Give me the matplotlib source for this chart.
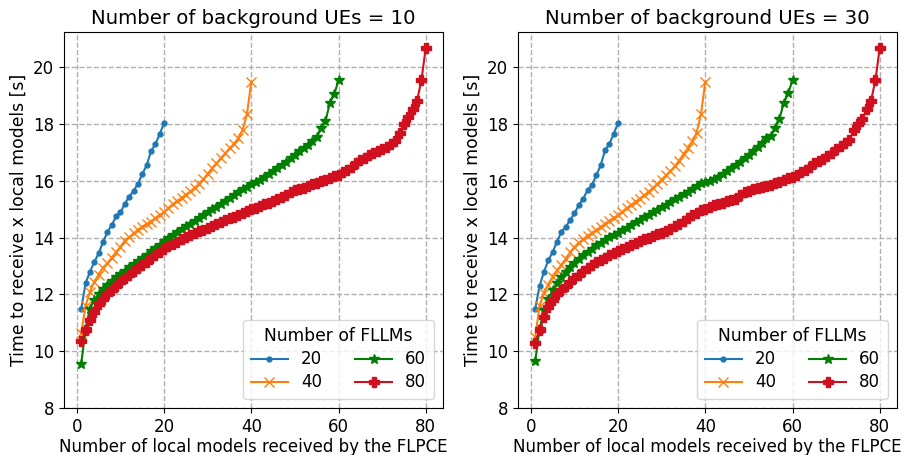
import matplotlib
matplotlib.use("Agg")
import matplotlib.pyplot as plt
import numpy as np

titles = ["Number of background UEs = 10", "Number of background UEs = 30"]
xlabel = "Number of local models received by the FLPCE"
ylabel = "Time to receive x local models [s]"
legend_title = "Number of FLLMs"
labels = ["20", "40", "60", "80"]

# ---- Background UEs = 10 ----
l_20 = [11.5, 12.4, 12.8, 13.15, 13.45, 13.85, 14.2, 14.45, 14.75, 14.9,
        15.2, 15.45, 15.65, 15.9, 16.25, 16.55, 17.05, 17.3, 17.65, 18.05]
l_40 = [10.65, 11.6, 12.1, 12.45, 12.7, 12.95, 13.1, 13.3, 13.5, 13.68,
        13.9, 14.02, 14.15, 14.28, 14.39, 14.48, 14.57, 14.7, 14.8, 14.9,
        15.05, 15.18, 15.3, 15.4, 15.52, 15.63, 15.75, 15.9, 16.07, 16.25,
        16.45, 16.62, 16.8, 16.97, 17.15, 17.3, 17.5, 17.8, 18.35, 19.5]
l_60 = [9.55, 10.8, 11.5, 11.8, 12.0, 12.2, 12.35, 12.48, 12.6, 12.72,
        12.84, 12.96, 13.07, 13.18, 13.29, 13.4, 13.52, 13.64, 13.76, 13.88,
        14.0, 14.1, 14.2, 14.3, 14.4, 14.5, 14.6, 14.7, 14.8, 14.9,
        15.0, 15.1, 15.2, 15.3, 15.4, 15.5, 15.6, 15.7, 15.8, 15.88,
        15.96, 16.04, 16.13, 16.23, 16.34, 16.45, 16.56, 16.68, 16.8, 16.92,
        17.04, 17.16, 17.28, 17.4, 17.55, 17.85, 18.1, 18.75, 19.05, 19.55]
l_80 = [10.35, 10.75, 11.1, 11.4, 11.65, 11.85, 12.0, 12.15, 12.3, 12.45,
        12.58, 12.7, 12.82, 12.93, 13.04, 13.15, 13.27, 13.4, 13.5, 13.6,
        13.7, 13.78, 13.86, 13.94, 14.01, 14.08, 14.15, 14.22, 14.29, 14.36,
        14.43, 14.49, 14.55, 14.62, 14.68, 14.74, 14.8, 14.86, 14.93, 15.0,
        15.06, 15.12, 15.18, 15.24, 15.3, 15.35, 15.42, 15.52, 15.6, 15.67,
        15.72, 15.77, 15.82, 15.88, 15.94, 15.99, 16.04, 16.1, 16.16, 16.22,
        16.3, 16.4, 16.5, 16.62, 16.74, 16.82, 16.9, 16.98, 17.05, 17.12,
        17.2, 17.3, 17.42, 17.7, 18.0, 18.25, 18.55, 18.83, 19.55, 20.7]

# ---- Background UEs = 30 ----
r_20 = [11.5, 12.3, 12.8, 13.2, 13.5, 13.86, 14.21, 14.39, 14.62, 14.86,
        15.15, 15.38, 15.67, 15.85, 16.2, 16.55, 17.08, 17.31, 17.66, 18.05]
r_40 = [10.5, 11.6, 12.05, 12.35, 12.63, 12.85, 13.05, 13.25, 13.48, 13.68,
        13.82, 13.95, 14.07, 14.17, 14.27, 14.38, 14.49, 14.6, 14.7, 14.8,
        14.92, 15.05, 15.16, 15.27, 15.38, 15.5, 15.62, 15.75, 15.9, 16.05,
        16.2, 16.35, 16.52, 16.72, 16.95, 17.15, 17.4, 17.7, 18.35, 19.5]
r_60 = [9.65, 10.8, 11.45, 11.85, 12.15, 12.4, 12.6, 12.8, 12.97, 13.12,
        13.25, 13.38, 13.5, 13.62, 13.73, 13.83, 13.93, 14.02, 14.1, 14.18,
        14.27, 14.36, 14.45, 14.54, 14.63, 14.72, 14.81, 14.9, 14.99, 15.08,
        15.17, 15.26, 15.35, 15.44, 15.53, 15.62, 15.72, 15.82, 15.92, 15.95,
        16.0, 16.07, 16.15, 16.25, 16.35, 16.46, 16.57, 16.68, 16.8, 16.92,
        17.05, 17.2, 17.35, 17.5, 17.6, 17.85, 18.2, 18.75, 19.1, 19.55]
r_80 = [10.3, 10.75, 11.2, 11.55, 11.8, 12.0, 12.15, 12.3, 12.45, 12.58,
        12.7, 12.82, 12.93, 13.03, 13.13, 13.22, 13.3, 13.38, 13.46, 13.54,
        13.6, 13.67, 13.74, 13.81, 13.88, 13.94, 14.0, 14.06, 14.12, 14.18,
        14.25, 14.32, 14.4, 14.5, 14.6, 14.7, 14.8, 14.88, 14.96, 15.03,
        15.09, 15.15, 15.2, 15.24, 15.28, 15.32, 15.38, 15.5, 15.6, 15.65,
        15.7, 15.74, 15.78, 15.82, 15.87, 15.92, 15.97, 16.03, 16.09, 16.15,
        16.22, 16.3, 16.38, 16.48, 16.62, 16.7, 16.78, 16.88, 17.0, 17.12,
        17.25, 17.33, 17.43, 17.78, 18.0, 18.2, 18.54, 18.83, 19.55, 20.7]

panels = [[l_20, l_40, l_60, l_80], [r_20, r_40, r_60, r_80]]
colors = ["#1f77b4", "#ff7f0e", "green", "#d0101e"]
markers = [".", "x", "*", "P"]
msizes = [7, 7, 7, 7]

fig = plt.figure(figsize=(9.06, 4.55), dpi=100)
ax_pos = [[64/906, 47/455, 379/906, 376/455], [518/906, 47/455, 379/906, 376/455]]

for p, (series, title) in enumerate(zip(panels, titles)):
    ax = fig.add_axes(ax_pos[p])
    for ys, c, m, ms, lab in zip(series, colors, markers, msizes, labels):
        xs = np.arange(1, len(ys) + 1)
        ax.plot(xs, ys, color=c, marker=m, markersize=ms, linewidth=1.5, label=lab)
    ax.set_xlim(-2.95, 83.95)
    ax.set_ylim(8, 21.25)
    ax.set_xticks([0, 20, 40, 60, 80])
    ax.set_yticks([8, 10, 12, 14, 16, 18, 20])
    ax.grid(True, linestyle="--", color="#b0b0b0", linewidth=1)
    ax.set_title(title, fontsize=14.2)
    ax.set_xlabel(xlabel, fontsize=12.0, labelpad=2)
    ax.set_ylabel(ylabel, fontsize=12.4)
    ax.tick_params(labelsize=12)
    ax.legend(title=legend_title, ncol=2, loc="lower right", fontsize=12,
              title_fontsize=12.3, handlelength=2.2, columnspacing=2.0,
              labelspacing=0.3, borderpad=0.45, borderaxespad=0.55)

fig.savefig("out.png", dpi=100)
